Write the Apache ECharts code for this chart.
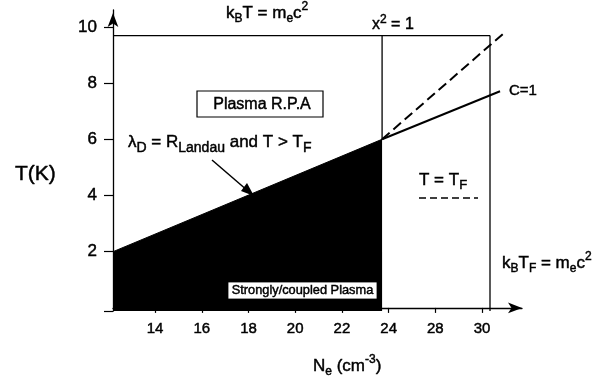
<!DOCTYPE html>
<html><head><meta charset="utf-8">
<script src="https://cdn.jsdelivr.net/npm/echarts@6/dist/echarts.min.js"></script>
<style>html,body{margin:0;padding:0;background:#fff}#c{width:609px;height:383px}</style>
</head><body><div id="c"></div>
<script>
// Tick positions on the (evenly drawn) density axis and their printed labels
const xTickPos = [14, 16, 18, 20, 22, 24, 26, 28];
const xTickLabels = ['14', '16', '18', '20', '22', '24', '28', '30'];
const yTickVals = [2, 4, 6, 8, 10];

// Strongly coupled region: top boundary lambda_D = R_Landau
const regionX = [12.2, 23.72];
const regionY = [2.0, 6.0];
// C = 1 line
const c1X = [23.72, 28.77];
const c1Y = [6.0, 7.71];
// T = T_F dashed line
const tfX = [23.72, 28.98];
const tfY = [6.0, 9.81];
// k_B T = m_e c^2 horizontal
const mecX = [12.2, 28.34];
const mecY = [9.69, 9.69];
// x^2 = 1 vertical
const x2X = [23.72, 23.72];
const x2Y = [6.0, 9.69];
// k_B T_F = m_e c^2 vertical
const tfmX = [28.34, 28.34];
const tfmY = [-0.11, 9.69];

const X_MIN = 12.2, X_MAX = 29.71, Y_MIN = -0.11, Y_MAX = 10.6;
const FF = '"Liberation Sans", Arial, Helvetica, sans-serif';
const BW = 0.45; // slight text stroke to mimic the heavy print

function pts(xs, ys) { return xs.map((x, i) => [x, ys[i]]); }
function lineSeries(xs, ys, w, type, extra) {
  return Object.assign({
    type: 'line', data: pts(xs, ys), symbol: 'none', silent: true, animation: false,
    lineStyle: { color: '#000', width: w, type: type || 'solid' }
  }, extra || {});
}
function rs(size, va, lh) {
  const o = { fontSize: size, fontFamily: FF, fill: '#000', stroke: '#000', lineWidth: BW };
  if (va) o.verticalAlign = va;
  if (lh) o.lineHeight = lh;
  return o;
}
function txt(x, y, text, rich, align) {
  return {
    type: 'text', x: x, y: y, silent: true, z: 100,
    style: { text: text, rich: rich, verticalAlign: 'middle', align: align || 'left', fill: '#000' }
  };
}
const R17 = { n: rs(17, null, 24), s: rs(13, 'bottom'), p: rs(12, 'top') };
const R17b = { n: rs(17, null, 24), s: rs(12, 'bottom'), p: rs(12, 'top') };
const RL = { n: rs(17, null, 26), s: rs(14, 'bottom') };
const R16 = { n: rs(16, null, 22), s: rs(12, 'bottom'), p: rs(12, 'top') };

const chart = echarts.init(document.getElementById('c'), null, { renderer: 'canvas' });
chart.setOption({
  animation: false,
  backgroundColor: '#fff',
  grid: { left: 113, right: 87, top: 10, bottom: 72 },
  xAxis: {
    type: 'value', min: X_MIN, max: X_MAX,
    axisLine: { lineStyle: { color: '#000', width: 1.3 }, symbol: ['none', 'arrow'], symbolSize: [8, 14] },
    axisTick: { customValues: xTickPos, length: 5, lineStyle: { color: '#000', width: 1.2 } },
    axisLabel: {
      customValues: xTickPos, margin: 10, color: '#000', fontSize: 15, fontFamily: FF,
      textBorderColor: '#000', textBorderWidth: BW,
      formatter: v => xTickLabels[xTickPos.indexOf(Math.round(v))]
    },
    splitLine: { show: false }
  },
  yAxis: {
    type: 'value', min: Y_MIN, max: Y_MAX,
    axisLine: { lineStyle: { color: '#000', width: 1.3 }, symbol: ['none', 'arrow'], symbolSize: [8, 14], symbolOffset: [0, -3] },
    axisTick: { customValues: [Y_MIN].concat(yTickVals), length: 9, lineStyle: { color: '#000', width: 1.2 } },
    axisLabel: { customValues: yTickVals, margin: 16, color: '#000', fontSize: 17, fontFamily: FF, textBorderColor: '#000', textBorderWidth: BW },
    splitLine: { show: false }
  },
  series: [
    lineSeries(regionX, regionY, 1, 'solid', { areaStyle: { color: '#000', opacity: 1, origin: 'start' } }),
    lineSeries(mecX, mecY, 1.3),
    lineSeries(x2X, x2Y, 1.3),
    lineSeries(tfmX, tfmY, 1.3),
    lineSeries(c1X, c1Y, 2),
    lineSeries(tfX, tfY, 2, [10, 5])
  ],
  graphic: [
    // Plasma R.P.A box
    { type: 'rect', z: 100, shape: { x: 197, y: 91, width: 126, height: 26 }, style: { fill: '#fff', stroke: '#000', lineWidth: 1.2 }, silent: true },
    txt(262, 104.5, '{n|Plasma R.P.A}', { n: rs(16) }, 'center'),
    // lambda_D label
    txt(128, 142, '{n|λ}{s|D}{n| = R}{s|Landau}{n| and T > T}{s|F}', RL),
    // arrow
    { type: 'line', z: 100, shape: { x1: 212, y1: 160, x2: 248, y2: 191 }, style: { stroke: '#000', lineWidth: 1.5 }, silent: true },
    { type: 'polygon', z: 100, shape: { points: [[254, 196], [241, 191], [247, 183]] }, style: { fill: '#000' }, silent: true },
    // Strongly coupled box
    { type: 'rect', z: 100, shape: { x: 228, y: 282, width: 149, height: 17 }, style: { fill: '#fff', stroke: '#000', lineWidth: 0.8 }, silent: true },
    txt(302.5, 290.5, '{n|Strongly/coupled Plasma}', { n: rs(12.8) }, 'center'),
    // top labels
    txt(226, 13, '{n|k}{s|B}{n|T = m}{s|e}{n|c}{p|2}', R17b),
    txt(372, 25, '{n|x}{p|2}{n| = 1}', R16),
    txt(509, 91, '{n|C=1}', { n: rs(15) }),
    txt(419, 180, '{n|T = T}{s|F}', R17),
    { type: 'line', z: 100, shape: { x1: 419, y1: 198, x2: 478, y2: 198 }, style: { stroke: '#000', lineWidth: 1.4, lineDash: [7, 4] }, silent: true },
    txt(502, 263, '{n|k}{s|B}{n|T}{s|F}{n| = m}{s|e}{n|c}{p|2}', R17b),
    // axis titles
    txt(15, 174, '{n|T(K)}', { n: rs(21) }),
    txt(313, 366, '{n|N}{s|e}{n| (cm}{p|-3}{n|)}', R17b)
  ]
});
</script></body></html>
